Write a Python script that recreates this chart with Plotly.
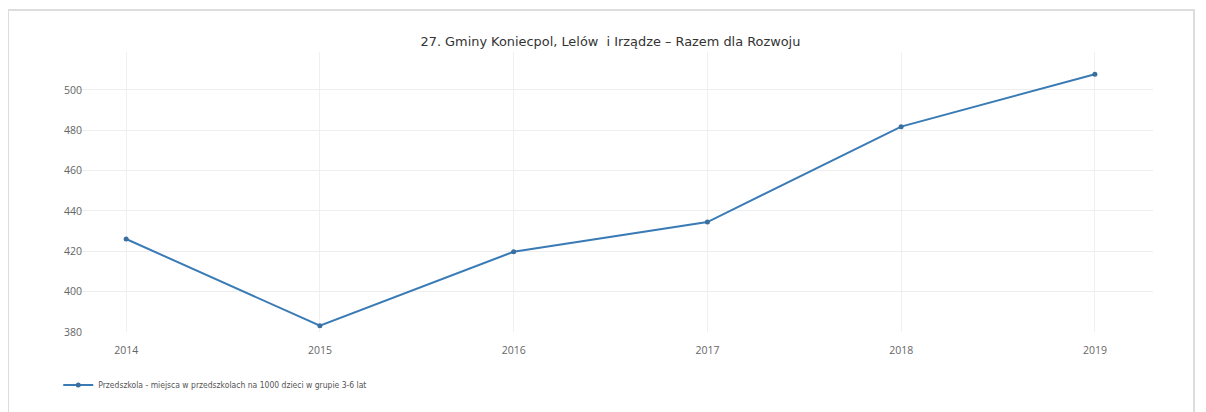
import plotly.graph_objects as go

years = [2014, 2015, 2016, 2017, 2018, 2019]
values = [426.1, 383.1, 419.8, 434.5, 481.8, 507.8]
series_name = "Przedszkola - miejsca w przedszkolach na 1000 dzieci w grupie 3-6 lat"
title_text = "27. Gminy Koniecpol, Lelów  i Irządze – Razem dla Rozwoju"
y_ticks = [380, 400, 420, 440, 460, 480, 500]

# page body has an 8px margin, so figure coords = screen coords - 8
L, R, T, B = 60, 1145, 44, 324
W = R - L
H = B - T

fig = go.Figure()
fig.add_trace(go.Scatter(
    x=years, y=values, name=series_name, mode="lines+markers",
    line=dict(color="#3a7bb5", width=2),
    marker=dict(color="#3a6f9f", size=5),
))

fig.update_layout(
    width=1206, height=412,
    margin=dict(l=L, r=1206 - R, t=T, b=412 - B),
    paper_bgcolor="white", plot_bgcolor="white",
    title=dict(text=title_text, x=(602 - L) / W, xanchor="center", y=1 - 33 / 412, yanchor="middle",
               font=dict(family="DejaVu Sans", size=12.9, color="#333")),
    font=dict(family="Open Sans, DejaVu Sans", color="#555"),
    showlegend=True,
    legend=dict(orientation="h", x=-0.009, xanchor="left", y=(B - 377) / H, yanchor="middle",
                font=dict(family="DejaVu Sans Condensed, Liberation Sans Narrow, Open Sans", size=8.5, color="#555"),
                itemwidth=30),
    xaxis=dict(range=[2013.7, 2019.3], tickvals=years, ticktext=[str(y) for y in years],
               showgrid=True, gridcolor="#f0f0f0", zeroline=False, showline=False,
               tickfont=dict(size=10.5, color="#666"), ticks="", ticklabelstandoff=10),
    yaxis=dict(range=[380, 518.8], tickvals=y_ticks, showgrid=True, gridcolor="#eeeeee",
               zeroline=False, showline=False, ticks="", ticklabelstandoff=-15,
               tickfont=dict(size=10.5, color="#666")),
    shapes=[dict(type="rect", xref="paper", yref="paper",
                 x0=(0 - L) / W, x1=(1186 - L) / W,
                 y0=-0.5, y1=(B - 2) / H,
                 line=dict(color="#dddddd", width=2), fillcolor="rgba(0,0,0,0)", layer="below")],
)

fig.write_html("out.html")
